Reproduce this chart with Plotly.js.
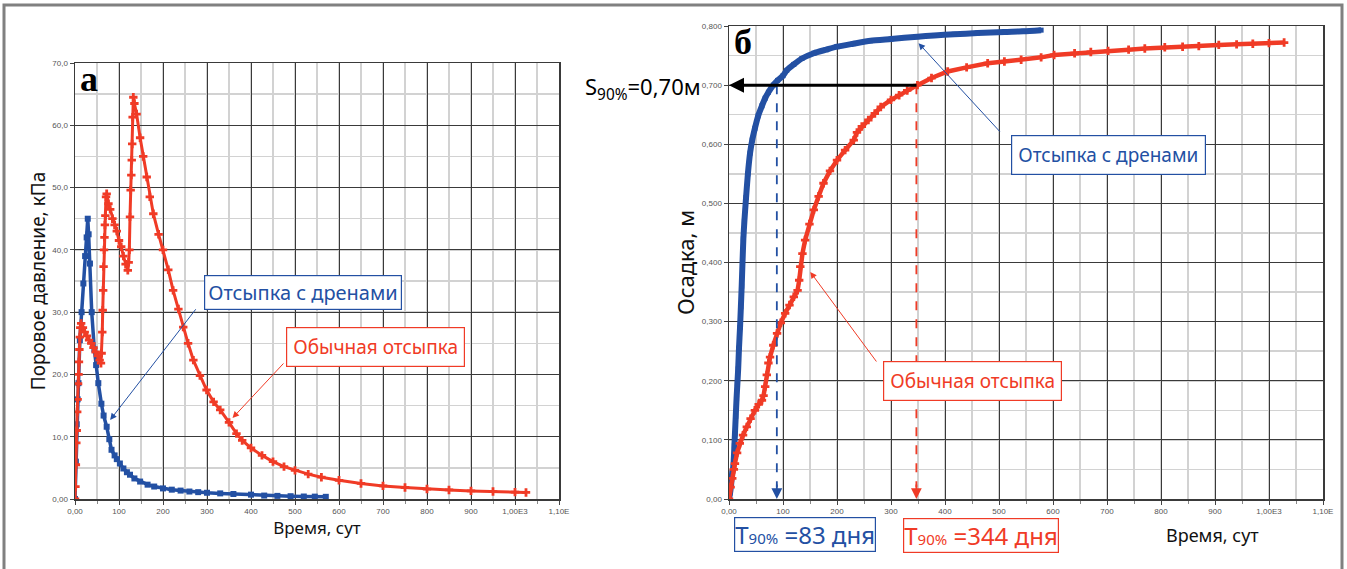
<!DOCTYPE html>
<html>
<head>
<meta charset="utf-8">
<script src="https://cdn.plot.ly/plotly-3.0.1.min.js"></script>
<style>
  html, body { margin: 0; padding: 0; background: #ffffff; }
  #chart { width: 1347px; height: 569px; }
</style>
</head>
<body>
<div id="chart"></div>
<script>
// ---------- DATA ----------
// (а) pore pressure, kPa vs time, days
const leftBlueT = [0, 2, 4, 6, 8, 11, 15, 19, 23, 26.5, 29, 31, 34, 38, 44, 48, 53, 60, 65, 72, 78, 83, 90, 95, 102, 110, 118, 125, 135, 148, 165, 180, 200, 220, 240, 260, 280, 300, 330, 360, 400, 430, 460, 490, 520, 545, 570];
const leftBlueP = [0, 6, 12, 16, 18.6, 25.5, 30, 34.6, 39, 42, 45, 42.5, 37.8, 30, 24, 21.5, 18.6, 15.3, 13.4, 11.6, 9.6, 7.9, 7.0, 6.4, 5.7, 4.9, 4.3, 3.9, 3.3, 2.8, 2.3, 2.0, 1.7, 1.5, 1.35, 1.2, 1.1, 1.0, 0.9, 0.8, 0.7, 0.55, 0.5, 0.45, 0.4, 0.38, 0.35];

const leftRedT = [0, 1, 2, 3, 4, 5, 6, 7, 8, 9, 10, 11, 12, 14, 18, 22, 27, 32, 37, 42, 47, 52, 56, 59, 60.5, 62, 63, 64, 65, 66, 67, 68, 69, 70.5, 72, 76, 80, 85, 90, 95, 100, 105, 110, 115, 120, 122, 123.5, 125, 126.5, 128, 129, 130, 131, 132.6, 135, 140, 148, 155, 163, 170, 178, 190, 200, 212, 223, 235, 246, 257, 269, 284, 299, 315, 330, 350, 367, 380, 400, 425, 450, 475, 500, 530, 560, 600, 650, 700, 750, 800, 850, 900, 950, 1000, 1025];
const leftRedP = [0, 2, 5.5, 9, 11, 14, 16, 18.5, 20, 22, 24, 26, 27.5, 28.2, 27.5, 26.8, 26.2, 25.5, 25, 24.3, 23.6, 23, 22.3, 21.8, 23.4, 26.8, 30.3, 33.5, 37.3, 40, 42, 44, 45.5, 48.5, 49, 47.4, 46.5, 45, 44, 43, 41.5, 40.5, 39, 37.7, 36.7, 38, 40, 45.3, 49.6, 52, 54.4, 57, 61.3, 64.5, 63.5, 61.8, 58, 55, 51.7, 48.5, 45.8, 42.5, 40, 36.8, 33.5, 30.5, 27.6, 25, 22.3, 19.8, 17.5, 15.6, 14.3, 12.3, 10.5, 9.4, 8.2, 7, 6, 5.2, 4.6, 4, 3.5, 3, 2.5, 2.1, 1.85, 1.6, 1.45, 1.3, 1.2, 1.1, 1.05];

// (б) settlement, m vs time, days
const rightBlueT = [0, 2, 4, 6, 8, 10, 11, 12.5, 14, 15.5, 17, 18.5, 20.4, 22, 23.5, 25, 26.6, 28.5, 31.6, 35, 39, 43, 48, 54, 61, 67, 73, 82, 90, 100, 107, 120, 135, 157, 180, 200, 230, 262, 300, 349, 380, 417, 460, 510, 545, 578];
const rightBlueS = [0, 0.01, 0.025, 0.045, 0.055, 0.09, 0.11, 0.14, 0.17, 0.195, 0.22, 0.255, 0.29, 0.325, 0.36, 0.40, 0.44, 0.47, 0.51, 0.55, 0.585, 0.607, 0.627, 0.648, 0.665, 0.678, 0.688, 0.70, 0.708, 0.716, 0.725, 0.735, 0.745, 0.754, 0.76, 0.765, 0.77, 0.775, 0.778, 0.782, 0.784, 0.786, 0.788, 0.79, 0.791, 0.793];

const rightRedT = [0, 3, 6, 9, 11, 15, 20, 26, 33, 40, 48, 55, 61, 64, 67, 70, 73, 76, 82, 89, 96, 104, 112, 120, 127, 130, 132, 136, 141, 149, 157, 166, 175, 187, 200, 215, 231, 237, 246, 258, 270, 281, 300, 315, 330, 349, 375, 405, 440, 479, 510, 541, 578, 602, 640, 670, 702, 740, 770, 807, 840, 870, 907, 940, 970, 1000, 1028];
const rightRedS = [0, 0.02, 0.035, 0.05, 0.06, 0.078, 0.094, 0.108, 0.122, 0.136, 0.15, 0.16, 0.167, 0.175, 0.19, 0.21, 0.23, 0.24, 0.26, 0.28, 0.298, 0.314, 0.328, 0.342, 0.353, 0.37, 0.393, 0.415, 0.438, 0.465, 0.489, 0.512, 0.534, 0.555, 0.573, 0.59, 0.607, 0.62, 0.63, 0.641, 0.652, 0.663, 0.675, 0.683, 0.691, 0.70, 0.712, 0.723, 0.73, 0.737, 0.74, 0.743, 0.747, 0.751, 0.754, 0.756, 0.758, 0.76, 0.762, 0.764, 0.765, 0.766, 0.768, 0.769, 0.77, 0.771, 0.772];

// tick labels
const timeTickVals = [0, 100, 200, 300, 400, 500, 600, 700, 800, 900, 1000, 1100];
const timeTickText = ['0,00', '100', '200', '300', '400', '500', '600', '700', '800', '900', '1,00E3', '1,10E'];
const pressTickVals = [0, 10, 20, 30, 40, 50, 60, 70];
const pressTickText = ['0,00', '10,0', '20,0', '30,0', '40,0', '50,0', '60,0', '70,0'];
const settTickVals = [0, 0.1, 0.2, 0.3, 0.4, 0.5, 0.6, 0.7, 0.8];
const settTickText = ['0,00', '0,100', '0,200', '0,300', '0,400', '0,500', '0,600', '0,700', '0,800'];

// labels
const seriesDrain = 'Отсыпка с дренами';
const seriesPlain = 'Обычная отсыпка';
const s90Value = 0.70;
const t90Drain = 88.6;   // where the dashed marker is drawn
const t90Plain = 347;

// ---------- STYLE ----------
const BLUE = '#2350a3';
const RED = '#f03b26';
const W = 1347, H = 569;
const px = v => v / W;
const py = v => 1 - v / H;
const FONT = 'Noto Sans, Open Sans, sans-serif';

const traces = [
  { x: leftBlueT, y: leftBlueP, xaxis: 'x', yaxis: 'y', type: 'scatter', mode: 'lines+markers', name: seriesDrain,
    line: { color: BLUE, width: 3.5 }, marker: { symbol: 'square', size: 6, color: BLUE } },
  { x: leftRedT, y: leftRedP, xaxis: 'x', yaxis: 'y', type: 'scatter', mode: 'lines+markers', name: seriesPlain,
    line: { color: RED, width: 3 }, marker: { symbol: 'cross', size: 7, color: RED } },
  { x: rightBlueT, y: rightBlueS, xaxis: 'x2', yaxis: 'y2', type: 'scatter', mode: 'lines+markers', name: seriesDrain,
    line: { color: BLUE, width: 6, shape: 'spline', smoothing: 0.6 }, marker: { symbol: 'square', size: 5, color: BLUE } },
  { x: rightRedT, y: rightRedS, xaxis: 'x2', yaxis: 'y2', type: 'scatter', mode: 'lines+markers', name: seriesPlain,
    line: { color: RED, width: 4.5 }, marker: { symbol: 'cross', size: 7, color: RED } }
];

function timeAxis(domain, anchor) {
  return {
    domain: domain, anchor: anchor, range: [0, 1100], fixedrange: true,
    tickmode: 'array', tickvals: timeTickVals, ticktext: timeTickText,
    tickfont: { family: 'Liberation Sans, Arial', size: 8, color: '#555555' },
    ticks: 'outside', ticklen: 4, tickcolor: '#444444',
    showgrid: true, gridcolor: '#3a3a3a', gridwidth: 1,
    minor: { dtick: 50, tick0: 0, showgrid: true, gridcolor: '#d2d2d2', gridwidth: 1.5, ticks: 'outside', ticklen: 3, tickcolor: '#888888' },
    showline: true, linecolor: '#3a3a3a', linewidth: 1.5, mirror: true, zeroline: false
  };
}

const layout = {
  width: W, height: H,
  margin: { l: 0, r: 0, t: 0, b: 0 },
  paper_bgcolor: '#ffffff', plot_bgcolor: '#ffffff',
  showlegend: false,
  font: { family: FONT, color: '#000000' },
  xaxis: Object.assign(timeAxis([px(75), px(559)], 'y'), {
    title: { text: 'Время, сут', font: { family: FONT, size: 17, color: '#111111' }, standoff: 4 }
  }),
  yaxis: {
    domain: [py(499), py(63)], anchor: 'x', range: [0, 70], fixedrange: true,
    tickmode: 'array', tickvals: pressTickVals, ticktext: pressTickText,
    tickfont: { family: 'Liberation Sans, Arial', size: 8, color: '#555555' },
    ticks: 'outside', ticklen: 4, tickcolor: '#444444',
    showgrid: true, gridcolor: '#3a3a3a', gridwidth: 1,
    minor: { dtick: 5, tick0: 0, showgrid: true, gridcolor: '#d2d2d2', gridwidth: 1.5 },
    showline: true, linecolor: '#3a3a3a', linewidth: 1.5, mirror: true, zeroline: false,
    title: { text: 'Поровое давление, кПа', font: { family: FONT, size: 19, color: '#111111' }, standoff: 1 }
  },
  xaxis2: timeAxis([px(729), px(1323)], 'y2'),
  yaxis2: {
    domain: [py(499), py(26)], anchor: 'x2', range: [0, 0.8], fixedrange: true,
    tickmode: 'array', tickvals: settTickVals, ticktext: settTickText,
    tickfont: { family: 'Liberation Sans, Arial', size: 8, color: '#555555' },
    ticks: 'outside', ticklen: 4, tickcolor: '#444444',
    showgrid: true, gridcolor: '#3a3a3a', gridwidth: 1,
    minor: { dtick: 0.05, tick0: 0, showgrid: true, gridcolor: '#d2d2d2', gridwidth: 1.5 },
    showline: true, linecolor: '#3a3a3a', linewidth: 1.5, mirror: true, zeroline: false,
    title: { text: 'Осадка, м', font: { family: FONT, size: 22, color: '#111111' }, standoff: 1 }
  },
  shapes: [
    // outer frame
    { type: 'rect', xref: 'paper', yref: 'paper', x0: px(4), x1: px(1342), y0: py(580), y1: py(5),
      line: { color: '#808080', width: 3 }, fillcolor: 'rgba(0,0,0,0)', layer: 'below' },
    // dashed T90 lines
    { type: 'line', xref: 'x2', yref: 'y2', x0: t90Drain, x1: t90Drain, y0: s90Value, y1: 0.02,
      line: { color: BLUE, width: 1.8, dash: 'dash' } },
    { type: 'line', xref: 'x2', yref: 'y2', x0: t90Plain, x1: t90Plain, y0: s90Value, y1: 0.02,
      line: { color: RED, width: 1.8, dash: 'dash' } }
  ],
  annotations: [
    // panel letters
    { xref: 'paper', yref: 'paper', x: px(78), y: py(57), xanchor: 'left', yanchor: 'top', showarrow: false,
      text: '<b>а</b>', font: { family: 'Liberation Serif, DejaVu Serif, serif', size: 36, color: '#000' } },
    { xref: 'paper', yref: 'paper', x: px(732), y: py(20), xanchor: 'left', yanchor: 'top', showarrow: false,
      text: '<b>б</b>', font: { family: 'Liberation Serif, DejaVu Serif, serif', size: 36, color: '#000' } },

    // ----- left chart callouts -----
    { xref: 'x', yref: 'y', axref: 'x', ayref: 'y', x: 80, y: 12.7, ax: 277, ay: 30.7, text: '',
      showarrow: true, arrowhead: 2, arrowsize: 1.3, arrowwidth: 1, arrowcolor: BLUE },
    { xref: 'x', yref: 'y', x: 518, y: 33.1, xanchor: 'center', yanchor: 'middle', showarrow: false, text: seriesDrain,
      font: { family: FONT, size: 20, color: BLUE }, bgcolor: '#ffffff', bordercolor: BLUE, borderwidth: 1.2, borderpad: 3 },
    { xref: 'x', yref: 'y', axref: 'x', ayref: 'y', x: 358, y: 13, ax: 477, ay: 22, text: '',
      showarrow: true, arrowhead: 2, arrowsize: 1.3, arrowwidth: 1, arrowcolor: RED },
    { xref: 'x', yref: 'y', x: 682, y: 24.4, xanchor: 'center', yanchor: 'middle', showarrow: false, text: seriesPlain,
      font: { family: FONT, size: 19, color: RED }, bgcolor: '#ffffff', bordercolor: RED, borderwidth: 1.2, borderpad: 6 },

    // ----- right chart callouts -----
    { xref: 'x2', yref: 'y2', axref: 'x2', ayref: 'y2', x: 351, y: 0.771, ax: 504, ay: 0.619, text: '',
      showarrow: true, arrowhead: 2, arrowsize: 1.3, arrowwidth: 1, arrowcolor: BLUE },
    { xref: 'x2', yref: 'y2', x: 703, y: 0.582, xanchor: 'center', yanchor: 'middle', showarrow: false, text: seriesDrain,
      font: { family: FONT, size: 19, color: BLUE }, bgcolor: '#ffffff', bordercolor: BLUE, borderwidth: 1.2, borderpad: 6 },
    { xref: 'x2', yref: 'y2', axref: 'x2', ayref: 'y2', x: 150.5, y: 0.384, ax: 275, ay: 0.23, text: '',
      showarrow: true, arrowhead: 2, arrowsize: 1.3, arrowwidth: 1, arrowcolor: RED },
    { xref: 'x2', yref: 'y2', x: 450, y: 0.2, xanchor: 'center', yanchor: 'middle', showarrow: false, text: seriesPlain,
      font: { family: FONT, size: 19, color: RED }, bgcolor: '#ffffff', bordercolor: RED, borderwidth: 1.2, borderpad: 6 },

    // S90 arrow & label
    { xref: 'x2', yref: 'y2', axref: 'x2', ayref: 'y2', x: 0, y: s90Value, ax: 350, ay: s90Value, text: '',
      showarrow: true, arrowhead: 2, arrowsize: 1, arrowwidth: 3, arrowcolor: '#000000' },
    { xref: 'paper', yref: 'paper', x: px(703), y: py(88), xanchor: 'right', yanchor: 'middle', showarrow: false,
      text: 'S<sub>90%</sub>=0,70м', font: { family: FONT, size: 22, color: '#000000' } },

    // T90 arrowheads at the bottom of dashed lines
    { xref: 'x2', yref: 'y2', x: t90Drain, y: 0, ax: 0, ay: -16, text: '', showarrow: true,
      arrowhead: 2, arrowsize: 1.2, arrowwidth: 1.8, arrowcolor: BLUE },
    { xref: 'x2', yref: 'y2', x: t90Plain, y: 0, ax: 0, ay: -16, text: '', showarrow: true,
      arrowhead: 2, arrowsize: 1.2, arrowwidth: 1.8, arrowcolor: RED },

    // T90 boxes
    { xref: 'paper', yref: 'paper', x: px(805), y: py(534), xanchor: 'center', yanchor: 'middle', showarrow: false,
      text: 'T<span style="font-size:15px">90%</span> =83 дня', font: { family: FONT, size: 24, color: BLUE },
      bgcolor: '#ffffff', bordercolor: BLUE, borderwidth: 1.2, borderpad: 0 },
    { xref: 'paper', yref: 'paper', x: px(981), y: py(535), xanchor: 'center', yanchor: 'middle', showarrow: false,
      text: 'T<span style="font-size:15px">90%</span> =344 дня', font: { family: FONT, size: 24, color: RED },
      bgcolor: '#ffffff', bordercolor: RED, borderwidth: 1.2, borderpad: 0 },

    // right x-axis title
    { xref: 'paper', yref: 'paper', x: px(1212), y: py(535), xanchor: 'center', yanchor: 'middle', showarrow: false,
      text: 'Время, сут', font: { family: FONT, size: 18, color: '#111111' } }
  ]
};

Plotly.newPlot('chart', traces, layout, { staticPlot: true, displayModeBar: false });
</script>
</body>
</html>
